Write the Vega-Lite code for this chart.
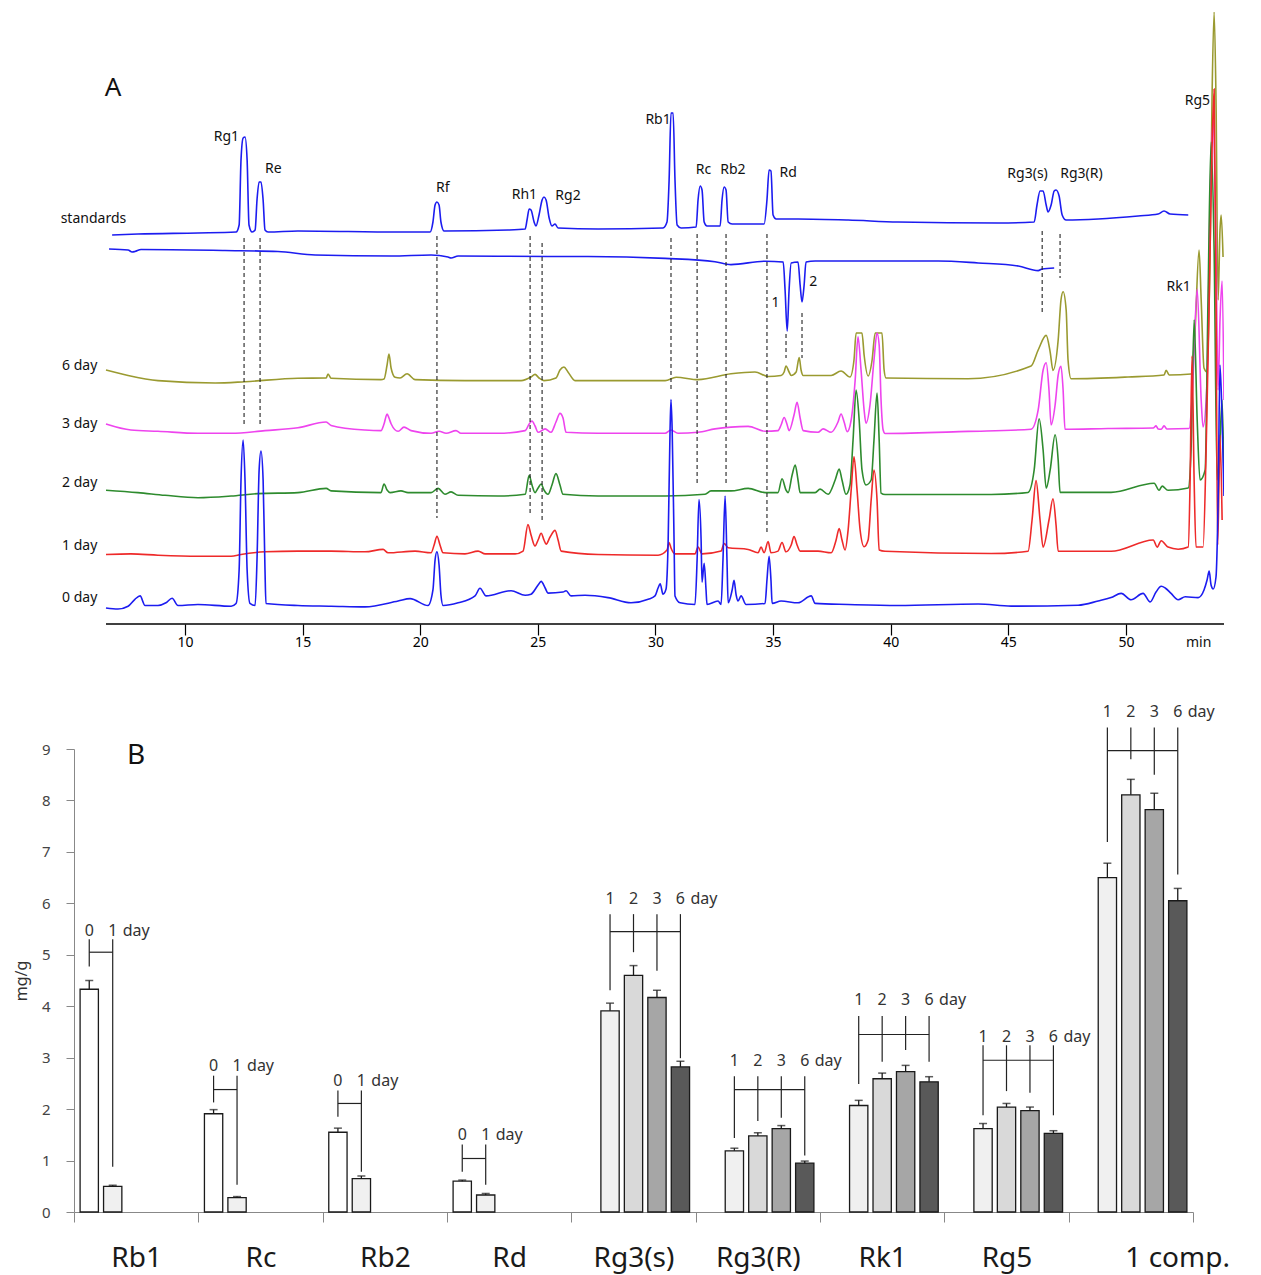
{
"$schema": "https://vega.github.io/schema/vega-lite/v6.json",
"background": "white",
"padding": {"left": 13, "top": 12, "right": 8, "bottom": 4},
"spacing": 54,
"config": {"font": "Noto Sans", "view": {"stroke": null}, "axis": {"grid": false}},
"datasets": {
"tr": [
{"s":"std","t":6.9,"v":64.83},{"s":"std","t":8.0,"v":65.0},{"s":"std","t":10.55,"v":65.17},{"s":"std","t":12.17,"v":65.33},{"s":"std","t":12.3,"v":66.5},{"s":"std","t":12.38,"v":77.33},{"s":"std","t":12.47,"v":81.0},{"s":"std","t":12.55,"v":81.17},{"s":"std","t":12.64,"v":77.33},{"s":"std","t":12.72,"v":66.5},{"s":"std","t":12.85,"v":65.33},{"s":"std","t":12.98,"v":65.67},{"s":"std","t":13.06,"v":70.67},{"s":"std","t":13.15,"v":73.67},{"s":"std","t":13.23,"v":73.67},{"s":"std","t":13.32,"v":70.67},{"s":"std","t":13.4,"v":65.67},{"s":"std","t":13.53,"v":65.33},{"s":"std","t":14.8,"v":65.5},{"s":"std","t":19.06,"v":65.33},{"s":"std","t":20.42,"v":65.33},{"s":"std","t":20.54,"v":67.0},{"s":"std","t":20.63,"v":69.83},{"s":"std","t":20.71,"v":70.33},{"s":"std","t":20.8,"v":69.83},{"s":"std","t":20.88,"v":67.0},{"s":"std","t":21.01,"v":65.5},{"s":"std","t":23.73,"v":65.67},{"s":"std","t":24.46,"v":65.83},{"s":"std","t":24.54,"v":67.33},{"s":"std","t":24.63,"v":69.17},{"s":"std","t":24.71,"v":69.0},{"s":"std","t":24.84,"v":67.0},{"s":"std","t":24.92,"v":66.33},{"s":"std","t":25.05,"v":68.17},{"s":"std","t":25.18,"v":70.67},{"s":"std","t":25.26,"v":71.17},{"s":"std","t":25.35,"v":70.67},{"s":"std","t":25.48,"v":67.67},{"s":"std","t":25.6,"v":66.33},{"s":"std","t":25.73,"v":66.67},{"s":"std","t":25.86,"v":66.0},{"s":"std","t":27.56,"v":65.83},{"s":"std","t":30.32,"v":66.0},{"s":"std","t":30.49,"v":67.0},{"s":"std","t":30.58,"v":74.0},{"s":"std","t":30.66,"v":85.17},{"s":"std","t":30.75,"v":85.17},{"s":"std","t":30.83,"v":74.0},{"s":"std","t":30.92,"v":66.5},{"s":"std","t":31.09,"v":66.0},{"s":"std","t":31.73,"v":66.17},{"s":"std","t":31.81,"v":70.67},{"s":"std","t":31.9,"v":73.0},{"s":"std","t":31.98,"v":72.33},{"s":"std","t":32.07,"v":67.0},{"s":"std","t":32.19,"v":66.33},{"s":"std","t":32.75,"v":66.33},{"s":"std","t":32.83,"v":70.67},{"s":"std","t":32.92,"v":72.83},{"s":"std","t":33.0,"v":72.33},{"s":"std","t":33.09,"v":67.0},{"s":"std","t":33.26,"v":66.67},{"s":"std","t":34.62,"v":66.67},{"s":"std","t":34.74,"v":70.67},{"s":"std","t":34.83,"v":75.67},{"s":"std","t":34.91,"v":75.5},{"s":"std","t":35.0,"v":68.17},{"s":"std","t":35.13,"v":67.5},{"s":"std","t":36.06,"v":67.5},{"s":"std","t":38.19,"v":67.33},{"s":"std","t":40.31,"v":67.0},{"s":"std","t":44.57,"v":66.83},{"s":"std","t":46.1,"v":67.0},{"s":"std","t":46.22,"v":69.83},{"s":"std","t":46.35,"v":72.17},{"s":"std","t":46.48,"v":72.17},{"s":"std","t":46.61,"v":69.83},{"s":"std","t":46.69,"v":68.67},{"s":"std","t":46.82,"v":69.83},{"s":"std","t":46.95,"v":72.17},{"s":"std","t":47.03,"v":72.33},{"s":"std","t":47.16,"v":71.33},{"s":"std","t":47.29,"v":68.17},{"s":"std","t":47.46,"v":67.33},{"s":"std","t":48.82,"v":67.5},{"s":"std","t":50.52,"v":68.0},{"s":"std","t":51.37,"v":68.33},{"s":"std","t":51.62,"v":68.83},{"s":"std","t":51.88,"v":68.33},{"s":"std","t":52.65,"v":68.17},
{"s":"ref","t":6.77,"v":62.5},{"s":"ref","t":7.58,"v":62.33},{"s":"ref","t":7.75,"v":62.0},{"s":"ref","t":7.87,"v":62.08},{"s":"ref","t":8.13,"v":62.42},{"s":"ref","t":11.7,"v":62.25},{"s":"ref","t":13.95,"v":62.08},{"s":"ref","t":15.53,"v":61.5},{"s":"ref","t":18.76,"v":61.33},{"s":"ref","t":20.46,"v":61.5},{"s":"ref","t":21.18,"v":61.17},{"s":"ref","t":21.31,"v":61.0},{"s":"ref","t":21.61,"v":61.33},{"s":"ref","t":25.43,"v":61.25},{"s":"ref","t":27.13,"v":61.25},{"s":"ref","t":30.41,"v":60.93},{"s":"ref","t":32.53,"v":60.37},{"s":"ref","t":33.21,"v":59.9},{"s":"ref","t":34.66,"v":60.47},{"s":"ref","t":35.43,"v":60.33},{"s":"ref","t":35.51,"v":55.67},{"s":"ref","t":35.6,"v":48.83},{"s":"ref","t":35.68,"v":55.67},{"s":"ref","t":35.77,"v":60.17},{"s":"ref","t":36.06,"v":60.33},{"s":"ref","t":36.15,"v":56.5},{"s":"ref","t":36.23,"v":53.67},{"s":"ref","t":36.32,"v":56.5},{"s":"ref","t":36.4,"v":60.33},{"s":"ref","t":36.79,"v":60.5},{"s":"ref","t":42.02,"v":60.5},{"s":"ref","t":43.72,"v":60.17},{"s":"ref","t":45.42,"v":59.67},{"s":"ref","t":46.27,"v":58.9},{"s":"ref","t":46.44,"v":59.17},{"s":"ref","t":46.95,"v":59.33},
{"s":"d6","t":6.64,"v":42.33},{"s":"d6","t":7.58,"v":41.42},{"s":"d6","t":8.85,"v":40.57},{"s":"d6","t":11.28,"v":40.17},{"s":"d6","t":12.55,"v":40.38},{"s":"d6","t":14.8,"v":40.97},{"s":"d6","t":16.0,"v":41.0},{"s":"d6","t":16.08,"v":41.67},{"s":"d6","t":16.21,"v":40.97},{"s":"d6","t":18.33,"v":40.73},{"s":"d6","t":18.46,"v":40.83},{"s":"d6","t":18.59,"v":43.17},{"s":"d6","t":18.67,"v":45.0},{"s":"d6","t":18.76,"v":42.67},{"s":"d6","t":18.93,"v":41.13},{"s":"d6","t":19.14,"v":41.0},{"s":"d6","t":19.44,"v":41.7},{"s":"d6","t":19.78,"v":40.73},{"s":"d6","t":21.9,"v":40.57},{"s":"d6","t":24.29,"v":40.57},{"s":"d6","t":24.71,"v":41.17},{"s":"d6","t":24.88,"v":41.6},{"s":"d6","t":25.05,"v":41.0},{"s":"d6","t":25.26,"v":40.57},{"s":"d6","t":25.77,"v":41.0},{"s":"d6","t":25.94,"v":42.33},{"s":"d6","t":26.11,"v":42.83},{"s":"d6","t":26.28,"v":42.0},{"s":"d6","t":26.58,"v":40.57},{"s":"d6","t":30.41,"v":40.57},{"s":"d6","t":30.88,"v":41.13},{"s":"d6","t":31.81,"v":40.73},{"s":"d6","t":33.21,"v":41.7},{"s":"d6","t":34.23,"v":42.0},{"s":"d6","t":34.79,"v":41.25},{"s":"d6","t":35.34,"v":41.42},{"s":"d6","t":35.47,"v":42.0},{"s":"d6","t":35.55,"v":43.0},{"s":"d6","t":35.68,"v":42.0},{"s":"d6","t":35.77,"v":41.42},{"s":"d6","t":35.98,"v":42.0},{"s":"d6","t":36.11,"v":44.4},{"s":"d6","t":36.19,"v":42.33},{"s":"d6","t":36.28,"v":41.42},{"s":"d6","t":37.47,"v":41.42},{"s":"d6","t":37.89,"v":42.17},{"s":"d6","t":38.27,"v":41.17},{"s":"d6","t":38.44,"v":44.0},{"s":"d6","t":38.53,"v":48.5},{"s":"d6","t":38.78,"v":48.5},{"s":"d6","t":38.87,"v":44.83},{"s":"d6","t":39.04,"v":41.33},{"s":"d6","t":39.21,"v":44.0},{"s":"d6","t":39.34,"v":48.5},{"s":"d6","t":39.63,"v":48.5},{"s":"d6","t":39.72,"v":42.33},{"s":"d6","t":39.8,"v":41.0},{"s":"d6","t":43.29,"v":40.87},{"s":"d6","t":45.97,"v":43.0},{"s":"d6","t":46.27,"v":45.67},{"s":"d6","t":46.61,"v":48.1},{"s":"d6","t":46.78,"v":45.33},{"s":"d6","t":46.9,"v":42.27},{"s":"d6","t":47.12,"v":47.33},{"s":"d6","t":47.24,"v":54.0},{"s":"d6","t":47.33,"v":55.38},{"s":"d6","t":47.46,"v":52.33},{"s":"d6","t":47.54,"v":44.0},{"s":"d6","t":47.67,"v":40.87},{"s":"d6","t":50.09,"v":41.17},{"s":"d6","t":51.62,"v":41.5},{"s":"d6","t":51.71,"v":42.27},{"s":"d6","t":51.84,"v":41.5},{"s":"d6","t":52.77,"v":41.67},{"s":"d6","t":52.94,"v":49.0},{"s":"d6","t":53.11,"v":62.33},{"s":"d6","t":53.2,"v":54.0},{"s":"d6","t":53.32,"v":42.67},{"s":"d6","t":53.45,"v":42.0},{"s":"d6","t":53.58,"v":62.33},{"s":"d6","t":53.66,"v":87.33},{"s":"d6","t":53.75,"v":102.0},{"s":"d6","t":53.83,"v":87.33},{"s":"d6","t":53.92,"v":54.0},{"s":"d6","t":54.0,"v":65.67},{"s":"d6","t":54.05,"v":68.17},{"s":"d6","t":54.13,"v":61.17},
{"s":"d3","t":6.64,"v":33.33},{"s":"d3","t":7.7,"v":32.33},{"s":"d3","t":8.85,"v":32.12},{"s":"d3","t":10.55,"v":31.78},{"s":"d3","t":11.96,"v":31.78},{"s":"d3","t":13.4,"v":32.23},{"s":"d3","t":14.8,"v":32.7},{"s":"d3","t":16.0,"v":33.67},{"s":"d3","t":16.21,"v":33.1},{"s":"d3","t":17.65,"v":32.33},{"s":"d3","t":18.33,"v":32.23},{"s":"d3","t":18.46,"v":33.33},{"s":"d3","t":18.59,"v":35.0},{"s":"d3","t":18.67,"v":34.33},{"s":"d3","t":18.76,"v":33.38},{"s":"d3","t":19.06,"v":32.12},{"s":"d3","t":19.31,"v":32.82},{"s":"d3","t":19.61,"v":32.23},{"s":"d3","t":20.46,"v":31.78},{"s":"d3","t":20.8,"v":32.12},{"s":"d3","t":21.1,"v":31.78},{"s":"d3","t":21.52,"v":32.23},{"s":"d3","t":21.73,"v":31.78},{"s":"d3","t":23.31,"v":31.78},{"s":"d3","t":24.46,"v":32.23},{"s":"d3","t":24.63,"v":33.33},{"s":"d3","t":24.75,"v":33.83},{"s":"d3","t":24.88,"v":33.0},{"s":"d3","t":25.01,"v":31.95},{"s":"d3","t":25.31,"v":32.52},{"s":"d3","t":25.56,"v":31.95},{"s":"d3","t":25.77,"v":33.67},{"s":"d3","t":25.94,"v":35.1},{"s":"d3","t":26.07,"v":34.33},{"s":"d3","t":26.2,"v":31.95},{"s":"d3","t":27.56,"v":31.78},{"s":"d3","t":30.41,"v":31.78},{"s":"d3","t":30.66,"v":32.33},{"s":"d3","t":30.96,"v":31.78},{"s":"d3","t":31.81,"v":31.95},{"s":"d3","t":32.53,"v":32.52},{"s":"d3","t":33.21,"v":32.82},{"s":"d3","t":33.94,"v":32.93},{"s":"d3","t":34.66,"v":32.12},{"s":"d3","t":35.21,"v":32.23},{"s":"d3","t":35.34,"v":33.17},{"s":"d3","t":35.47,"v":34.42},{"s":"d3","t":35.6,"v":33.17},{"s":"d3","t":35.68,"v":32.23},{"s":"d3","t":35.89,"v":34.83},{"s":"d3","t":36.02,"v":36.95},{"s":"d3","t":36.15,"v":34.33},{"s":"d3","t":36.28,"v":32.23},{"s":"d3","t":36.91,"v":31.95},{"s":"d3","t":37.13,"v":32.52},{"s":"d3","t":37.47,"v":31.95},{"s":"d3","t":37.76,"v":33.67},{"s":"d3","t":37.89,"v":35.0},{"s":"d3","t":38.02,"v":33.67},{"s":"d3","t":38.15,"v":32.05},{"s":"d3","t":38.32,"v":34.0},{"s":"d3","t":38.49,"v":40.67},{"s":"d3","t":38.61,"v":47.88},{"s":"d3","t":38.74,"v":42.33},{"s":"d3","t":38.87,"v":35.67},{"s":"d3","t":38.95,"v":33.45},{"s":"d3","t":39.12,"v":36.5},{"s":"d3","t":39.29,"v":44.0},{"s":"d3","t":39.42,"v":48.5},{"s":"d3","t":39.51,"v":46.5},{"s":"d3","t":39.59,"v":37.33},{"s":"d3","t":39.68,"v":32.33},{"s":"d3","t":39.76,"v":31.75},{"s":"d3","t":43.29,"v":32.1},{"s":"d3","t":45.97,"v":32.45},{"s":"d3","t":46.27,"v":35.67},{"s":"d3","t":46.48,"v":42.33},{"s":"d3","t":46.61,"v":43.53},{"s":"d3","t":46.73,"v":39.0},{"s":"d3","t":46.82,"v":33.17},{"s":"d3","t":46.99,"v":36.5},{"s":"d3","t":47.12,"v":41.5},{"s":"d3","t":47.24,"v":42.97},{"s":"d3","t":47.33,"v":39.0},{"s":"d3","t":47.41,"v":32.45},{"s":"d3","t":49.24,"v":32.58},{"s":"d3","t":51.16,"v":32.67},{"s":"d3","t":51.28,"v":33.02},{"s":"d3","t":51.37,"v":32.5},{"s":"d3","t":51.5,"v":32.45},{"s":"d3","t":51.62,"v":33.02},{"s":"d3","t":51.75,"v":32.5},{"s":"d3","t":52.69,"v":32.58},{"s":"d3","t":52.81,"v":37.33},{"s":"d3","t":53.03,"v":55.83},{"s":"d3","t":53.2,"v":37.33},{"s":"d3","t":53.28,"v":32.83},{"s":"d3","t":53.45,"v":40.67},{"s":"d3","t":53.58,"v":70.67},{"s":"d3","t":53.71,"v":84.33},{"s":"d3","t":53.83,"v":62.33},{"s":"d3","t":53.92,"v":39.0},{"s":"d3","t":54.0,"v":50.67},{"s":"d3","t":54.09,"v":57.17},{"s":"d3","t":54.17,"v":37.33},
{"s":"d2","t":6.64,"v":22.3},{"s":"d2","t":8.0,"v":21.9},{"s":"d2","t":9.15,"v":21.45},{"s":"d2","t":10.55,"v":21.05},{"s":"d2","t":11.96,"v":21.33},{"s":"d2","t":13.1,"v":21.73},{"s":"d2","t":14.8,"v":21.9},{"s":"d2","t":16.0,"v":22.6},{"s":"d2","t":16.21,"v":22.18},{"s":"d2","t":18.33,"v":21.9},{"s":"d2","t":18.46,"v":23.33},{"s":"d2","t":18.59,"v":22.33},{"s":"d2","t":18.72,"v":21.9},{"s":"d2","t":19.18,"v":22.18},{"s":"d2","t":19.48,"v":21.9},{"s":"d2","t":20.46,"v":21.9},{"s":"d2","t":20.76,"v":22.6},{"s":"d2","t":21.05,"v":21.62},{"s":"d2","t":21.31,"v":22.02},{"s":"d2","t":21.61,"v":21.45},{"s":"d2","t":23.31,"v":21.33},{"s":"d2","t":24.46,"v":21.62},{"s":"d2","t":24.63,"v":24.78},{"s":"d2","t":24.75,"v":23.17},{"s":"d2","t":24.88,"v":21.9},{"s":"d2","t":25.01,"v":22.67},{"s":"d2","t":25.14,"v":23.33},{"s":"d2","t":25.26,"v":22.33},{"s":"d2","t":25.43,"v":21.62},{"s":"d2","t":25.6,"v":23.17},{"s":"d2","t":25.77,"v":25.07},{"s":"d2","t":25.94,"v":23.17},{"s":"d2","t":26.07,"v":21.62},{"s":"d2","t":27.56,"v":21.33},{"s":"d2","t":30.41,"v":21.33},{"s":"d2","t":32.11,"v":21.62},{"s":"d2","t":32.36,"v":22.18},{"s":"d2","t":33.21,"v":22.18},{"s":"d2","t":33.94,"v":22.6},{"s":"d2","t":34.66,"v":21.9},{"s":"d2","t":35.21,"v":21.9},{"s":"d2","t":35.38,"v":24.2},{"s":"d2","t":35.55,"v":22.33},{"s":"d2","t":35.64,"v":21.9},{"s":"d2","t":35.81,"v":24.83},{"s":"d2","t":35.94,"v":26.5},{"s":"d2","t":36.06,"v":24.0},{"s":"d2","t":36.15,"v":21.9},{"s":"d2","t":36.79,"v":21.9},{"s":"d2","t":37.0,"v":22.48},{"s":"d2","t":37.34,"v":21.62},{"s":"d2","t":37.64,"v":24.0},{"s":"d2","t":37.81,"v":25.82},{"s":"d2","t":37.93,"v":24.0},{"s":"d2","t":38.1,"v":21.62},{"s":"d2","t":38.27,"v":23.17},{"s":"d2","t":38.4,"v":30.67},{"s":"d2","t":38.53,"v":39.0},{"s":"d2","t":38.66,"v":34.0},{"s":"d2","t":38.78,"v":25.67},{"s":"d2","t":38.95,"v":23.17},{"s":"d2","t":39.17,"v":24.0},{"s":"d2","t":39.29,"v":30.67},{"s":"d2","t":39.42,"v":38.5},{"s":"d2","t":39.51,"v":30.67},{"s":"d2","t":39.59,"v":21.83},{"s":"d2","t":39.76,"v":21.58},{"s":"d2","t":44.27,"v":21.58},{"s":"d2","t":45.84,"v":21.93},{"s":"d2","t":46.1,"v":25.67},{"s":"d2","t":46.31,"v":34.2},{"s":"d2","t":46.48,"v":29.0},{"s":"d2","t":46.61,"v":22.63},{"s":"d2","t":46.78,"v":25.67},{"s":"d2","t":46.99,"v":31.53},{"s":"d2","t":47.12,"v":27.33},{"s":"d2","t":47.2,"v":21.93},{"s":"d2","t":49.37,"v":21.93},{"s":"d2","t":51.2,"v":23.47},{"s":"d2","t":51.41,"v":22.28},{"s":"d2","t":51.54,"v":22.98},{"s":"d2","t":51.79,"v":22.28},{"s":"d2","t":52.65,"v":22.67},{"s":"d2","t":52.77,"v":29.0},{"s":"d2","t":52.9,"v":50.67},{"s":"d2","t":53.03,"v":34.0},{"s":"d2","t":53.15,"v":24.0},{"s":"d2","t":53.37,"v":25.67},{"s":"d2","t":53.49,"v":54.0},{"s":"d2","t":53.62,"v":80.33},{"s":"d2","t":53.75,"v":62.33},{"s":"d2","t":53.88,"v":24.0},{"s":"d2","t":54.0,"v":30.67},{"s":"d2","t":54.09,"v":37.33},{"s":"d2","t":54.17,"v":24.0},
{"s":"d1","t":6.64,"v":11.58},{"s":"d1","t":7.7,"v":11.68},{"s":"d1","t":8.85,"v":11.47},{"s":"d1","t":10.55,"v":11.3},{"s":"d1","t":11.96,"v":11.3},{"s":"d1","t":12.38,"v":11.58},{"s":"d1","t":13.4,"v":12.03},{"s":"d1","t":14.8,"v":12.15},{"s":"d1","t":16.21,"v":12.15},{"s":"d1","t":17.65,"v":12.03},{"s":"d1","t":18.42,"v":12.43},{"s":"d1","t":18.63,"v":11.87},{"s":"d1","t":19.78,"v":12.15},{"s":"d1","t":20.46,"v":11.87},{"s":"d1","t":20.59,"v":13.17},{"s":"d1","t":20.71,"v":14.62},{"s":"d1","t":20.84,"v":13.17},{"s":"d1","t":20.97,"v":11.87},{"s":"d1","t":21.9,"v":11.68},{"s":"d1","t":22.46,"v":12.15},{"s":"d1","t":22.76,"v":11.68},{"s":"d1","t":24.03,"v":11.68},{"s":"d1","t":24.37,"v":12.15},{"s":"d1","t":24.58,"v":16.57},{"s":"d1","t":24.71,"v":14.83},{"s":"d1","t":24.88,"v":13.0},{"s":"d1","t":25.01,"v":14.0},{"s":"d1","t":25.14,"v":15.13},{"s":"d1","t":25.26,"v":14.0},{"s":"d1","t":25.35,"v":13.3},{"s":"d1","t":25.52,"v":14.5},{"s":"d1","t":25.73,"v":15.6},{"s":"d1","t":25.86,"v":14.0},{"s":"d1","t":25.99,"v":12.15},{"s":"d1","t":27.56,"v":11.58},{"s":"d1","t":30.11,"v":11.47},{"s":"d1","t":30.49,"v":12.33},{"s":"d1","t":30.58,"v":13.58},{"s":"d1","t":30.66,"v":12.67},{"s":"d1","t":30.83,"v":11.68},{"s":"d1","t":31.68,"v":11.68},{"s":"d1","t":31.81,"v":12.83},{"s":"d1","t":31.98,"v":11.68},{"s":"d1","t":32.79,"v":12.15},{"s":"d1","t":32.92,"v":13.42},{"s":"d1","t":33.09,"v":12.72},{"s":"d1","t":33.94,"v":12.43},{"s":"d1","t":34.36,"v":11.87},{"s":"d1","t":34.49,"v":12.83},{"s":"d1","t":34.62,"v":11.87},{"s":"d1","t":34.79,"v":13.75},{"s":"d1","t":34.91,"v":11.87},{"s":"d1","t":35.21,"v":12.15},{"s":"d1","t":35.38,"v":13.58},{"s":"d1","t":35.55,"v":12.03},{"s":"d1","t":35.77,"v":13.17},{"s":"d1","t":35.89,"v":14.57},{"s":"d1","t":36.02,"v":13.17},{"s":"d1","t":36.15,"v":12.15},{"s":"d1","t":36.91,"v":12.15},{"s":"d1","t":37.47,"v":11.87},{"s":"d1","t":37.68,"v":14.0},{"s":"d1","t":37.81,"v":15.92},{"s":"d1","t":37.93,"v":14.0},{"s":"d1","t":38.06,"v":12.33},{"s":"d1","t":38.19,"v":15.67},{"s":"d1","t":38.32,"v":22.33},{"s":"d1","t":38.44,"v":27.88},{"s":"d1","t":38.57,"v":22.33},{"s":"d1","t":38.7,"v":15.67},{"s":"d1","t":38.87,"v":12.88},{"s":"d1","t":39.04,"v":14.0},{"s":"d1","t":39.17,"v":20.67},{"s":"d1","t":39.29,"v":25.67},{"s":"d1","t":39.42,"v":20.67},{"s":"d1","t":39.51,"v":12.33},{"s":"d1","t":39.76,"v":12.12},{"s":"d1","t":44.27,"v":11.75},{"s":"d1","t":45.84,"v":12.12},{"s":"d1","t":46.01,"v":17.33},{"s":"d1","t":46.18,"v":23.9},{"s":"d1","t":46.35,"v":17.33},{"s":"d1","t":46.48,"v":12.82},{"s":"d1","t":46.73,"v":17.33},{"s":"d1","t":46.9,"v":20.88},{"s":"d1","t":47.03,"v":16.5},{"s":"d1","t":47.12,"v":12.12},{"s":"d1","t":49.37,"v":12.12},{"s":"d1","t":51.16,"v":14.0},{"s":"d1","t":51.33,"v":12.82},{"s":"d1","t":51.5,"v":13.87},{"s":"d1","t":51.79,"v":12.82},{"s":"d1","t":52.22,"v":12.47},{"s":"d1","t":52.65,"v":12.83},{"s":"d1","t":52.73,"v":24.0},{"s":"d1","t":52.81,"v":44.67},{"s":"d1","t":52.9,"v":24.0},{"s":"d1","t":52.98,"v":12.83},{"s":"d1","t":53.28,"v":12.83},{"s":"d1","t":53.41,"v":29.0},{"s":"d1","t":53.54,"v":54.0},{"s":"d1","t":53.66,"v":79.0},{"s":"d1","t":53.75,"v":89.17},{"s":"d1","t":53.83,"v":54.0},{"s":"d1","t":53.9,"v":13.17},{"s":"d1","t":53.96,"v":24.0},{"s":"d1","t":54.0,"v":31.5},{"s":"d1","t":54.09,"v":17.33},
{"s":"d0","t":6.64,"v":2.68},{"s":"d0","t":7.15,"v":2.5},{"s":"d0","t":7.58,"v":2.97},{"s":"d0","t":7.87,"v":4.12},{"s":"d0","t":8.09,"v":4.68},{"s":"d0","t":8.3,"v":3.08},{"s":"d0","t":8.85,"v":3.08},{"s":"d0","t":9.19,"v":3.53},{"s":"d0","t":9.45,"v":4.28},{"s":"d0","t":9.7,"v":3.08},{"s":"d0","t":10.55,"v":3.25},{"s":"d0","t":11.96,"v":2.97},{"s":"d0","t":12.17,"v":3.43},{"s":"d0","t":12.3,"v":9.0},{"s":"d0","t":12.38,"v":24.0},{"s":"d0","t":12.47,"v":30.67},{"s":"d0","t":12.55,"v":24.0},{"s":"d0","t":12.64,"v":9.0},{"s":"d0","t":12.76,"v":3.43},{"s":"d0","t":12.98,"v":3.08},{"s":"d0","t":13.06,"v":10.67},{"s":"d0","t":13.15,"v":25.67},{"s":"d0","t":13.23,"v":28.83},{"s":"d0","t":13.32,"v":24.0},{"s":"d0","t":13.4,"v":9.0},{"s":"d0","t":13.44,"v":3.43},{"s":"d0","t":14.8,"v":3.08},{"s":"d0","t":16.21,"v":2.97},{"s":"d0","t":17.65,"v":2.85},{"s":"d0","t":19.06,"v":3.83},{"s":"d0","t":19.57,"v":4.23},{"s":"d0","t":20.33,"v":3.08},{"s":"d0","t":20.54,"v":5.67},{"s":"d0","t":20.63,"v":10.67},{"s":"d0","t":20.71,"v":12.03},{"s":"d0","t":20.8,"v":9.83},{"s":"d0","t":20.88,"v":4.83},{"s":"d0","t":20.97,"v":3.08},{"s":"d0","t":21.61,"v":3.53},{"s":"d0","t":22.33,"v":4.68},{"s":"d0","t":22.54,"v":5.95},{"s":"d0","t":22.8,"v":4.68},{"s":"d0","t":23.86,"v":5.55},{"s":"d0","t":24.46,"v":4.8},{"s":"d0","t":24.71,"v":4.97},{"s":"d0","t":25.01,"v":6.5},{"s":"d0","t":25.14,"v":7.1},{"s":"d0","t":25.31,"v":6.0},{"s":"d0","t":25.43,"v":5.15},{"s":"d0","t":26.07,"v":5.33},{"s":"d0","t":26.2,"v":5.55},{"s":"d0","t":26.41,"v":4.68},{"s":"d0","t":27.01,"v":4.8},{"s":"d0","t":27.98,"v":4.4},{"s":"d0","t":28.96,"v":3.53},{"s":"d0","t":29.69,"v":4.12},{"s":"d0","t":29.98,"v":4.68},{"s":"d0","t":30.11,"v":6.0},{"s":"d0","t":30.2,"v":6.7},{"s":"d0","t":30.32,"v":4.97},{"s":"d0","t":30.45,"v":5.83},{"s":"d0","t":30.54,"v":14.0},{"s":"d0","t":30.62,"v":32.33},{"s":"d0","t":30.66,"v":37.4},{"s":"d0","t":30.71,"v":32.33},{"s":"d0","t":30.79,"v":14.0},{"s":"d0","t":30.83,"v":4.68},{"s":"d0","t":31.05,"v":3.53},{"s":"d0","t":31.68,"v":3.25},{"s":"d0","t":31.77,"v":10.67},{"s":"d0","t":31.85,"v":20.75},{"s":"d0","t":31.94,"v":14.0},{"s":"d0","t":31.98,"v":6.98},{"s":"d0","t":32.07,"v":10.13},{"s":"d0","t":32.15,"v":5.67},{"s":"d0","t":32.19,"v":3.25},{"s":"d0","t":32.66,"v":3.83},{"s":"d0","t":32.79,"v":3.25},{"s":"d0","t":32.87,"v":10.67},{"s":"d0","t":32.96,"v":21.33},{"s":"d0","t":33.04,"v":10.67},{"s":"d0","t":33.09,"v":3.53},{"s":"d0","t":33.26,"v":5.67},{"s":"d0","t":33.34,"v":7.27},{"s":"d0","t":33.43,"v":4.83},{"s":"d0","t":33.51,"v":3.83},{"s":"d0","t":33.64,"v":4.68},{"s":"d0","t":33.85,"v":3.25},{"s":"d0","t":34.66,"v":3.43},{"s":"d0","t":34.74,"v":7.33},{"s":"d0","t":34.83,"v":11.28},{"s":"d0","t":34.91,"v":7.33},{"s":"d0","t":34.96,"v":3.43},{"s":"d0","t":35.34,"v":3.83},{"s":"d0","t":36.06,"v":3.53},{"s":"d0","t":36.62,"v":4.68},{"s":"d0","t":36.79,"v":3.43},{"s":"d0","t":38.19,"v":3.25},{"s":"d0","t":40.31,"v":3.08},{"s":"d0","t":43.72,"v":3.33},{"s":"d0","t":45.12,"v":2.98},{"s":"d0","t":47.97,"v":3.13},{"s":"d0","t":48.82,"v":3.83},{"s":"d0","t":49.37,"v":4.4},{"s":"d0","t":49.8,"v":5.1},{"s":"d0","t":50.22,"v":4.05},{"s":"d0","t":50.73,"v":5.1},{"s":"d0","t":51.03,"v":3.68},{"s":"d0","t":51.28,"v":5.33},{"s":"d0","t":51.5,"v":6.28},{"s":"d0","t":51.67,"v":6.0},{"s":"d0","t":51.92,"v":5.1},{"s":"d0","t":52.22,"v":4.05},{"s":"d0","t":52.52,"v":4.53},{"s":"d0","t":53.07,"v":4.4},{"s":"d0","t":53.32,"v":5.67},{"s":"d0","t":53.45,"v":7.33},{"s":"d0","t":53.54,"v":8.83},{"s":"d0","t":53.62,"v":6.5},{"s":"d0","t":53.71,"v":5.83},{"s":"d0","t":53.83,"v":7.83},{"s":"d0","t":53.92,"v":20.67},{"s":"d0","t":54.0,"v":43.17},{"s":"d0","t":54.09,"v":34.0},{"s":"d0","t":54.17,"v":21.33}
],
"dash": [
{"t":12.51,"v":64.33,"v2":33.17},{"t":13.19,"v":64.33,"v2":33.17},{"t":20.71,"v":64.67,"v2":17.67},{"t":24.67,"v":64.67,"v2":18.5},{"t":25.18,"v":63.5,"v2":17.33},{"t":30.66,"v":64.33,"v2":38.83},{"t":31.77,"v":65.0,"v2":23.0},{"t":33.0,"v":65.0,"v2":23.0},{"t":34.74,"v":65.0,"v2":15.33},{"t":35.55,"v":48.33,"v2":44.33},{"t":36.23,"v":51.83,"v2":44.33},{"t":46.44,"v":65.5,"v2":51.5},{"t":47.2,"v":65.0,"v2":57.67}
],
"baseline": [{"t":6.64,"t2":54.17,"v":0}],
"plab": [
{"t":11.76,"v":81.17,"txt":"Rg1"},{"t":13.75,"v":75.83,"txt":"Re"},{"t":20.96,"v":72.72,"txt":"Rf"},{"t":24.43,"v":71.52,"txt":"Rh1"},{"t":26.28,"v":71.28,"txt":"Rg2"},{"t":30.11,"v":84.03,"txt":"Rb1"},{"t":32.04,"v":75.72,"txt":"Rc"},{"t":33.29,"v":75.67,"txt":"Rb2"},{"t":35.64,"v":75.1,"txt":"Rd"},{"t":35.1,"v":53.47,"txt":"1"},{"t":36.71,"v":56.92,"txt":"2"},{"t":45.82,"v":75.0,"txt":"Rg3(s)"},{"t":48.11,"v":75.0,"txt":"Rg3(R)"},{"t":52.24,"v":56.22,"txt":"Rk1"},{"t":53.04,"v":87.2,"txt":"Rg5"},{"t":53.09,"v":-3.1,"txt":"min"}
],
"side": [
{"t":7.5,"v":67.5,"txt":"standards"},{"t":6.27,"v":43.0,"txt":"6 day"},{"t":6.27,"v":33.27,"txt":"3 day"},{"t":6.27,"v":23.52,"txt":"2 day"},{"t":6.27,"v":12.92,"txt":"1 day"},{"t":6.27,"v":4.28,"txt":"0 day"}
],
"bars": [
{"comp":"Rb1","day":"0","val":4.33,"top":4.5},{"comp":"Rb1","day":"1","val":0.5,"top":0.52},
{"comp":"Rc","day":"0","val":1.91,"top":1.99},{"comp":"Rc","day":"1","val":0.28,"top":0.3},
{"comp":"Rb2","day":"0","val":1.55,"top":1.63},{"comp":"Rb2","day":"1","val":0.65,"top":0.7},
{"comp":"Rd","day":"0","val":0.6,"top":0.62},{"comp":"Rd","day":"1","val":0.33,"top":0.36},
{"comp":"Rg3(s)","day":"1","val":3.91,"top":4.06},{"comp":"Rg3(s)","day":"2","val":4.6,"top":4.79},{"comp":"Rg3(s)","day":"3","val":4.17,"top":4.31},{"comp":"Rg3(s)","day":"6","val":2.82,"top":2.93},
{"comp":"Rg3(R)","day":"1","val":1.19,"top":1.24},{"comp":"Rg3(R)","day":"2","val":1.48,"top":1.54},{"comp":"Rg3(R)","day":"3","val":1.62,"top":1.68},{"comp":"Rg3(R)","day":"6","val":0.95,"top":0.99},
{"comp":"Rk1","day":"1","val":2.07,"top":2.17},{"comp":"Rk1","day":"2","val":2.59,"top":2.7},{"comp":"Rk1","day":"3","val":2.73,"top":2.85},{"comp":"Rk1","day":"6","val":2.53,"top":2.63},
{"comp":"Rg5","day":"1","val":1.62,"top":1.72},{"comp":"Rg5","day":"2","val":2.04,"top":2.11},{"comp":"Rg5","day":"3","val":1.97,"top":2.04},{"comp":"Rg5","day":"6","val":1.53,"top":1.58},
{"comp":"1 comp.","day":"1","val":6.5,"top":6.78},{"comp":"1 comp.","day":"2","val":8.11,"top":8.41},{"comp":"1 comp.","day":"3","val":7.82,"top":8.14},{"comp":"1 comp.","day":"6","val":6.05,"top":6.29}
],
"br": [
{"comp":"Rb1","day":"0","lo":4.77,"hi":5.3,"h":5.05,"ly":5.47,"last":false},{"comp":"Rb1","day":"1","lo":0.88,"hi":5.3,"h":5.05,"ly":5.47,"last":true},
{"comp":"Rc","day":"0","lo":2.13,"hi":2.65,"h":2.38,"ly":2.84,"last":false},{"comp":"Rc","day":"1","lo":0.53,"hi":2.65,"h":2.38,"ly":2.84,"last":true},
{"comp":"Rb2","day":"0","lo":1.85,"hi":2.36,"h":2.11,"ly":2.54,"last":false},{"comp":"Rb2","day":"1","lo":0.78,"hi":2.36,"h":2.11,"ly":2.54,"last":true},
{"comp":"Rd","day":"0","lo":0.78,"hi":1.31,"h":1.04,"ly":1.5,"last":false},{"comp":"Rd","day":"1","lo":0.53,"hi":1.31,"h":1.04,"ly":1.5,"last":true},
{"comp":"Rg3(s)","day":"1","lo":4.31,"hi":5.79,"h":5.45,"ly":6.09,"last":false},{"comp":"Rg3(s)","day":"2","lo":5.05,"hi":5.79,"h":5.45,"ly":6.09,"last":false},{"comp":"Rg3(s)","day":"3","lo":4.69,"hi":5.79,"h":5.45,"ly":6.09,"last":false},{"comp":"Rg3(s)","day":"6","lo":2.99,"hi":5.79,"h":5.45,"ly":6.09,"last":true},
{"comp":"Rg3(R)","day":"1","lo":1.44,"hi":2.64,"h":2.38,"ly":2.93,"last":false},{"comp":"Rg3(R)","day":"2","lo":1.77,"hi":2.64,"h":2.38,"ly":2.93,"last":false},{"comp":"Rg3(R)","day":"3","lo":1.83,"hi":2.64,"h":2.38,"ly":2.93,"last":false},{"comp":"Rg3(R)","day":"6","lo":1.1,"hi":2.64,"h":2.38,"ly":2.93,"last":true},
{"comp":"Rk1","day":"1","lo":2.49,"hi":3.81,"h":3.45,"ly":4.13,"last":false},{"comp":"Rk1","day":"2","lo":2.92,"hi":3.81,"h":3.45,"ly":4.13,"last":false},{"comp":"Rk1","day":"3","lo":3.15,"hi":3.81,"h":3.45,"ly":4.13,"last":false},{"comp":"Rk1","day":"6","lo":2.92,"hi":3.81,"h":3.45,"ly":4.13,"last":true},
{"comp":"Rg5","day":"1","lo":1.88,"hi":3.24,"h":2.95,"ly":3.41,"last":false},{"comp":"Rg5","day":"2","lo":2.35,"hi":3.24,"h":2.95,"ly":3.41,"last":false},{"comp":"Rg5","day":"3","lo":2.32,"hi":3.24,"h":2.95,"ly":3.41,"last":false},{"comp":"Rg5","day":"6","lo":1.88,"hi":3.24,"h":2.95,"ly":3.41,"last":true},
{"comp":"1 comp.","day":"1","lo":7.19,"hi":9.42,"h":8.97,"ly":9.71,"last":false},{"comp":"1 comp.","day":"2","lo":8.8,"hi":9.42,"h":8.97,"ly":9.71,"last":false},{"comp":"1 comp.","day":"3","lo":8.5,"hi":9.42,"h":8.97,"ly":9.71,"last":false},{"comp":"1 comp.","day":"6","lo":6.56,"hi":9.42,"h":8.97,"ly":9.71,"last":true}
]
},
"vconcat": [
{
"width": 1150, "height": 612,
"encoding": {
 "x": {"field": "t", "type": "quantitative", "title": null, "scale": {"domain": [5.28, 54.17], "nice": false, "zero": false},
       "axis": {"values": [10,15,20,25,30,35,40,45,50], "domain": false, "ticks": true, "labels": true, "tickSize": 11, "tickColor": "#000", "tickWidth": 1.2, "labelFontSize": 14, "labelColor": "#000", "labelPadding": 0, "title": null}},
 "y": {"field": "v", "type": "quantitative", "scale": {"domain": [0, 102], "nice": false, "zero": false}, "axis": null}
},
"layer": [
 {"data": {"name": "tr"}, "mark": {"type": "line", "strokeWidth": 1.6, "clip": true, "interpolate": "monotone"},
  "encoding": {"color": {"field": "s", "type": "nominal", "legend": null,
     "scale": {"domain": ["std","ref","d6","d3","d2","d1","d0"], "range": ["#1c1cf0","#1c1cf0","#9a9a30","#ee44ee","#2e8b2e","#ee2a2a","#1c1cf0"]}}}},
 {"data": {"name": "dash"}, "mark": {"type": "rule", "strokeDash": [4, 3], "color": "#222", "strokeWidth": 1.1},
  "encoding": {"y2": {"field": "v2"}}},
 {"data": {"name": "baseline"}, "mark": {"type": "rule", "color": "#000", "strokeWidth": 1.3},
  "encoding": {"x2": {"field": "t2"}}},
 {"data": {"name": "plab"}, "mark": {"type": "text", "fontSize": 14, "color": "#111"},
  "encoding": {"text": {"field": "txt"}}},
 {"data": {"name": "side"}, "mark": {"type": "text", "fontSize": 14, "color": "#111", "align": "right"},
  "encoding": {"text": {"field": "txt"}}},
 {"data": {"values": [{"t": 6.94, "v": 89.33, "txt": "A"}]}, "mark": {"type": "text", "fontSize": 26, "color": "#111"},
  "encoding": {"text": {"field": "txt"}}}
]
},
{
"width": 1119, "height": 463,
"layer": [
 {"data": {"name": "bars"}, "mark": {"type": "bar", "stroke": "#1a1a1a", "strokeWidth": 1.3},
  "encoding": {
   "x": {"field": "comp", "type": "nominal", "title": null,
         "scale": {"domain": ["Rb1","Rc","Rb2","Rd","Rg3(s)","Rg3(R)","Rk1","Rg5","1 comp."], "paddingInner": 0, "paddingOuter": 0},
         "axis": {"tickBand": "extent", "domainColor": "#888", "tickColor": "#888", "tickSize": 10, "labelFontSize": 28, "labelColor": "#1a1a1a", "labelPadding": 22, "labelAngle": 0, "title": null,
                  "labelAlign": {"condition": {"test": "datum.value == '1 comp.'", "value": "left"}, "value": "center"},
                  "labelOffset": {"condition": {"test": "datum.value == '1 comp.'", "value": -6}, "value": 0}}},
   "xOffset": {"field": "day", "type": "nominal", "scale": {"domain": ["0","1","2","3","6"], "paddingInner": 0.22, "paddingOuter": 0.26}},
   "y": {"field": "val", "type": "quantitative", "title": "mg/g", "scale": {"domain": [0, 9], "nice": false},
         "axis": {"values": [0,1,2,3,4,5,6,7,8,9], "domainColor": "#888", "tickColor": "#888", "tickSize": 8, "labelFontSize": 15, "labelColor": "#444", "labelPadding": 16, "titleFontSize": 16, "titleFontWeight": "normal", "titleColor": "#333", "titlePadding": 12}},
   "fill": {"field": "day", "type": "nominal", "legend": null, "scale": {"domain": ["0","1","2","3","6"], "range": ["#ffffff","#f0f0f0","#d9d9d9","#a6a6a6","#595959"]}}
  }},
 {"data": {"name": "bars"}, "mark": {"type": "rule", "color": "#1a1a1a", "strokeWidth": 1.3},
  "encoding": {"x": {"field": "comp", "type": "nominal", "title": null}, "xOffset": {"field": "day", "type": "nominal"},
   "y": {"field": "val", "type": "quantitative", "title": "mg/g"}, "y2": {"field": "top"}}},
 {"data": {"name": "bars"}, "mark": {"type": "tick", "color": "#1a1a1a", "thickness": 1.5, "size": 8},
  "encoding": {"x": {"field": "comp", "type": "nominal", "title": null}, "xOffset": {"field": "day", "type": "nominal"},
   "y": {"field": "top", "type": "quantitative", "title": "mg/g"}}},
 {"data": {"name": "br"}, "mark": {"type": "rule", "color": "#222", "strokeWidth": 1.2},
  "encoding": {"x": {"field": "comp", "type": "nominal", "title": null}, "xOffset": {"field": "day", "type": "nominal"},
   "y": {"field": "lo", "type": "quantitative", "title": "mg/g"}, "y2": {"field": "hi"}}},
 {"data": {"name": "br"}, "mark": {"type": "line", "color": "#222", "strokeWidth": 1.2},
  "encoding": {"x": {"field": "comp", "type": "nominal", "title": null}, "xOffset": {"field": "day", "type": "nominal"},
   "y": {"field": "h", "type": "quantitative", "title": "mg/g"}, "detail": {"field": "comp"}, "order": {"field": "day", "type": "ordinal"}}},
 {"data": {"name": "br"}, "mark": {"type": "text", "fontSize": 16, "color": "#333"},
  "encoding": {"x": {"field": "comp", "type": "nominal", "title": null}, "xOffset": {"field": "day", "type": "nominal"},
   "y": {"field": "ly", "type": "quantitative", "title": "mg/g"}, "text": {"field": "day"}}},
 {"data": {"name": "br"}, "transform": [{"filter": "datum.last"}], "mark": {"type": "text", "fontSize": 16, "color": "#333", "align": "left", "dx": 10},
  "encoding": {"x": {"field": "comp", "type": "nominal", "title": null}, "xOffset": {"field": "day", "type": "nominal"},
   "y": {"field": "ly", "type": "quantitative", "title": "mg/g"}, "text": {"value": "day"}}},
 {"data": {"values": [{"comp": "Rb1", "v": 8.86, "txt": "B"}]}, "mark": {"type": "text", "fontSize": 28, "color": "#111"},
  "encoding": {"x": {"field": "comp", "type": "nominal", "title": null}, "y": {"field": "v", "type": "quantitative", "title": "mg/g"}, "text": {"field": "txt"}}}
]
}
]
}
